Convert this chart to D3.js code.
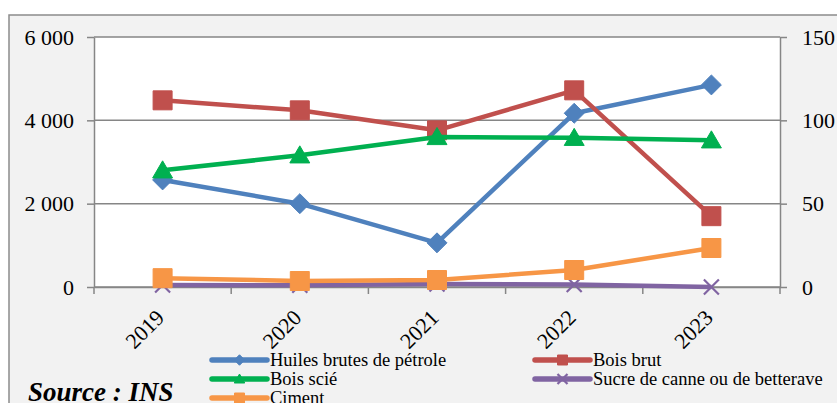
<!DOCTYPE html>
<html>
<head>
<meta charset="utf-8">
<script src="https://cdn.jsdelivr.net/npm/d3@7"></script>
<style>
  body { margin: 0; background: #fff; }
</style>
</head>
<body>
<svg width="837" height="403"></svg>
<script>
var years = ["2019", "2020", "2021", "2022", "2023"];

// primary axis (left)
var huiles = [2570, 2000, 1060, 4170, 4850];
var boisBrut = [4480, 4240, 3760, 4720, 1700];
// secondary axis (right)
var boisScie = [70, 79, 90, 89.5, 88];
var sucre = [1.2, 1, 1.8, 1.5, 0];
var ciment = [5.3, 3.6, 4.2, 10.2, 23.4];

var leftTicks = [0, 2000, 4000, 6000];
var rightTicks = [0, 50, 100, 150];

var series = [
  {name: "Huiles brutes de pétrole", values: huiles, axis: "left", color: "#4f81bd", marker: "diamond"},
  {name: "Bois brut", values: boisBrut, axis: "left", color: "#c0504d", marker: "square"},
  {name: "Bois scié", values: boisScie, axis: "right", color: "#00b050", marker: "triangle"},
  {name: "Sucre de canne ou de betterave", values: sucre, axis: "right", color: "#8064a2", marker: "cross"},
  {name: "Ciment", values: ciment, axis: "right", color: "#f79646", marker: "square"}
];

var svg = d3.select("svg");
var plotL = 94, plotR = 780, plotT = 37, plotB = 287;
var gridColor = "#868686";
var serif = "'Liberation Serif', 'Times New Roman', serif";

// outer chart frame
svg.append("rect")
    .attr("x", 9).attr("y", 15)
    .attr("width", 840).attr("height", 400)
    .attr("fill", "#f2f2f2")
    .attr("stroke", "#8c8c8c")
    .attr("stroke-width", 1.5);

svg.append("rect")
    .attr("x", plotL).attr("y", plotT)
    .attr("width", plotR - plotL).attr("height", plotB - plotT)
    .attr("fill", "#fff");

var x = d3.scaleBand().domain(years).range([plotL, plotR]);
var cx = function(d) { return x(d) + x.bandwidth() / 2; };
var yL = d3.scaleLinear().domain([0, 6000]).range([plotB, plotT]);
var yR = d3.scaleLinear().domain([0, 150]).range([plotB, plotT]);

var fmt = function(v) { return d3.format(",")(v).replace(/,/g, " "); };

// gridlines
svg.append("g")
    .selectAll("line")
    .data(leftTicks)
    .enter().append("line")
    .attr("x1", plotL).attr("x2", plotR)
    .attr("y1", function(d) { return yL(d); })
    .attr("y2", function(d) { return yL(d); })
    .attr("stroke", gridColor)
    .attr("stroke-width", 1.5);

var axisL = svg.append("g")
    .attr("transform", "translate(" + plotL + ",0)")
    .call(d3.axisLeft(yL).tickValues(leftTicks).tickFormat(fmt).tickSizeInner(7).tickSizeOuter(0).tickPadding(13));

var axisR = svg.append("g")
    .attr("transform", "translate(" + plotR + ",0)")
    .call(d3.axisRight(yR).tickValues(rightTicks).tickSizeInner(7).tickSizeOuter(0).tickPadding(15));

var axisX = svg.append("g")
    .attr("transform", "translate(0," + plotB + ")")
    .call(d3.axisBottom(x).tickSize(0).tickFormat(""));

// category boundary ticks
svg.append("g")
    .selectAll("line")
    .data(d3.range(years.length + 1))
    .enter().append("line")
    .attr("x1", function(i) { return plotL + i * x.bandwidth(); })
    .attr("x2", function(i) { return plotL + i * x.bandwidth(); })
    .attr("y1", plotB).attr("y2", plotB + 7)
    .attr("stroke", gridColor)
    .attr("stroke-width", 1.5);

[axisL, axisR, axisX].forEach(function(a) {
  a.attr("font-family", serif);
  a.selectAll(".domain").attr("stroke", gridColor).attr("stroke-width", 1.5);
  a.selectAll(".tick line").attr("stroke", gridColor).attr("stroke-width", 1.5);
  a.selectAll("text")
      .style("font-family", serif)
      .attr("font-size", 22)
      .attr("fill", "#000");
});

// year labels
svg.append("g")
    .selectAll("text")
    .data(years)
    .enter().append("text")
    .attr("transform", function(d) { return "translate(" + (cx(d) + 3) + "," + (plotB + 32) + ") rotate(-45)"; })
    .attr("text-anchor", "end")
    .style("font-family", serif)
    .attr("font-size", 22)
    .text(function(d) { return d; });

function markerPath(type, s) {
  var h = s / 2;
  if (type === "diamond") return "M0," + (-h * 1.05) + "L" + h * 1.05 + ",0L0," + h * 1.05 + "L" + (-h * 1.05) + ",0Z";
  if (type === "square") return "M" + (-h) + "," + (-h) + "h" + s + "v" + s + "h" + (-s) + "Z";
  if (type === "triangle") return "M0," + (-h * 1.0) + "L" + h * 1.05 + "," + h * 0.8 + "L" + (-h * 1.05) + "," + h * 0.8 + "Z";
  if (type === "cross") return "M" + (-h) + "," + (-h) + "L" + h + "," + h + "M" + h + "," + (-h) + "L" + (-h) + "," + h;
}

function drawMarker(g, type, color, s) {
  var p = g.append("path").attr("d", markerPath(type, s));
  if (type === "cross") {
    p.attr("fill", "none").attr("stroke", color).attr("stroke-width", 2.2);
  } else {
    p.attr("fill", color).attr("stroke", color).attr("stroke-width", 1).attr("stroke-linejoin", "round");
  }
}

var lineGen = function(yScale) {
  return d3.line()
      .x(function(d, i) { return cx(years[i]); })
      .y(function(d) { return yScale(d); });
};

series.forEach(function(s) {
  var yScale = s.axis === "left" ? yL : yR;
  var g = svg.append("g");
  g.append("path")
      .datum(s.values)
      .attr("d", lineGen(yScale))
      .attr("fill", "none")
      .attr("stroke", s.color)
      .attr("stroke-width", 4.5)
      .attr("stroke-linejoin", "round");
  s.values.forEach(function(v, i) {
    var m = g.append("g").attr("transform", "translate(" + cx(years[i]) + "," + yScale(v) + ")");
    drawMarker(m, s.marker, s.color, s.marker === "cross" ? 15 : 19);
  });
});

// legend
var legendPos = [
  {x: 212, y: 360}, {x: 535, y: 360},
  {x: 212, y: 379}, {x: 535, y: 379},
  {x: 212, y: 398}
];
series.forEach(function(s, i) {
  var p = legendPos[i];
  var g = svg.append("g").attr("transform", "translate(" + p.x + "," + p.y + ")");
  g.append("line")
      .attr("x1", 0).attr("x2", 55)
      .attr("stroke", s.color)
      .attr("stroke-width", 5.5)
      .attr("stroke-linecap", "round");
  var m = g.append("g").attr("transform", "translate(27.5,0)");
  drawMarker(m, s.marker, s.color, 10);
  g.append("text")
      .attr("x", 58)
      .attr("dy", "0.35em")
      .style("font-family", serif)
      .attr("font-size", 18.5)
      .text(s.name);
});

svg.append("text")
    .attr("x", 28).attr("y", 401)
    .style("font-family", serif)
    .attr("font-size", 27)
    .attr("font-weight", "bold")
    .attr("font-style", "italic")
    .text("Source : INS");
</script>
</body>
</html>
